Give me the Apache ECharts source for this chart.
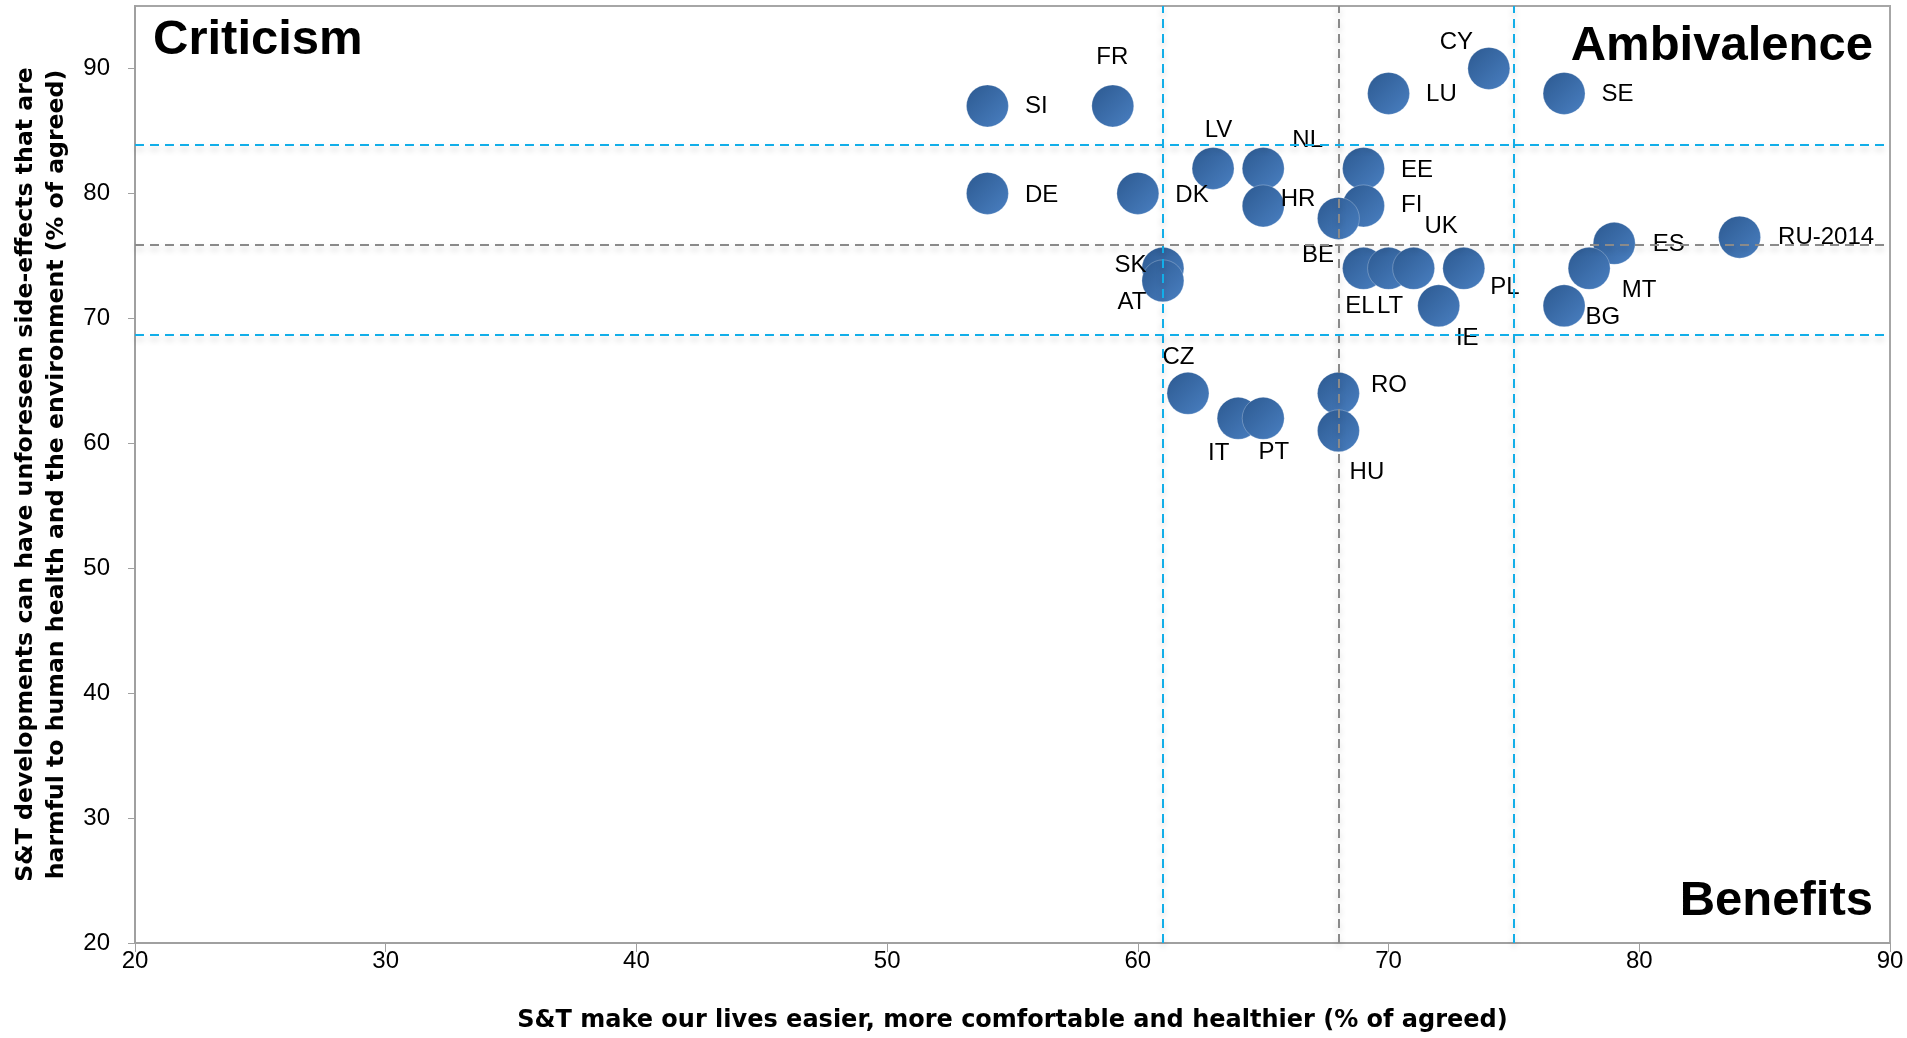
<!DOCTYPE html>
<html>
<head>
<meta charset="utf-8">
<title>S&amp;T perceptions by country</title>
<script src="https://cdn.jsdelivr.net/npm/echarts@6/dist/echarts.min.js"></script>
<style>
  html, body { margin: 0; padding: 0; background: #ffffff; }
  #chart { width: 1907px; height: 1038px; }
</style>
</head>
<body>
<div id="chart"></div>
<script>
// Country codes
const countries = ['SI', 'FR', 'LV', 'NL', 'EE', 'DE', 'DK', 'HR', 'FI', 'BE',
  'CY', 'LU', 'SE', 'ES', 'RU-2014', 'MT', 'BG', 'SK', 'AT', 'EL',
  'LT', 'UK', 'PL', 'IE', 'CZ', 'IT', 'PT', 'RO', 'HU'];

// "S&T make our lives easier, more comfortable and healthier" (% agreed)
const easierLives = [54, 59, 63, 65, 69, 54, 60, 65, 69, 68,
  74, 70, 77, 79, 84, 78, 77, 61, 61, 69,
  70, 71, 73, 72, 62, 64, 65, 68, 68];

// "S&T developments can have unforeseen harmful side-effects" (% agreed)
const sideEffects = [87, 87, 82, 82, 82, 80, 80, 79, 79, 78,
  90, 88, 88, 76, 76.5, 74, 71, 74, 73, 74,
  74, 74, 74, 71, 64, 62, 62, 64, 61];

// Reference lines (vertical on the x scale, horizontal on the y scale)
const xRefLines = [61, 68, 75];
const yRefLines = [83.9, 75.9, 68.7];
const refColors = ['#12aee8', '#8a8a8a', '#12aee8'];

// Axis ticks
const xTicks = [20, 30, 40, 50, 60, 70, 80, 90];
const yTicks = [20, 30, 40, 50, 60, 70, 80, 90];

// Label placement around each bubble: [text align, dx, dy] from the centre
const labelPlacement = {
  'SI': ['left', 38, 1], 'FR': ['center', 0, -48], 'LV': ['center', 6, -38],
  'NL': ['center', 45, -28], 'EE': ['left', 38, 2], 'DE': ['left', 38, 2],
  'DK': ['left', 38, 2], 'HR': ['left', 18, -6], 'FI': ['left', 38, 0],
  'BE': ['right', -4, 37], 'CY': ['center', -32, -26], 'LU': ['left', 38, 1],
  'SE': ['left', 38, 1], 'ES': ['left', 39, 2], 'RU-2014': ['left', 39, 1],
  'MT': ['left', 33, 23], 'BG': ['left', 22, 12], 'SK': ['right', -16, -2],
  'AT': ['right', -16, 22], 'EL': ['center', -3, 39], 'LT': ['center', 2, 39],
  'UK': ['center', 28, -41], 'PL': ['left', 27, 20], 'IE': ['center', 29, 33],
  'CZ': ['center', -9, -35], 'IT': ['center', -19, 36], 'PT': ['center', 11, 35],
  'RO': ['left', 33, -7], 'HU': ['center', 29, 42]
};

const BUBBLE = 42;
const half = BUBBLE / 2;
const labelFont = 'Liberation Sans';
const tickFont = 'Liberation Sans';
const titleFont = 'DejaVu Sans';

const points = countries.map(function (c, i) {
  const p = labelPlacement[c];
  return {
    name: c,
    value: [easierLives[i], sideEffects[i]],
    label: {
      position: [half + p[1], half + p[2]],
      align: p[0],
      verticalAlign: 'middle'
    }
  };
});

const dashStyle = function (color) {
  return {
    color: color,
    width: 2,
    type: [9, 6],
    shadowColor: 'rgba(0,0,0,0.22)',
    shadowBlur: 6,
    shadowOffsetY: 4
  };
};

const refLineData = xRefLines.map(function (v, i) {
  return { xAxis: v, lineStyle: dashStyle(refColors[i]) };
}).concat(yRefLines.map(function (v, i) {
  return { yAxis: v, lineStyle: dashStyle(refColors[i]) };
}));

const chart = echarts.init(document.getElementById('chart'), null, { renderer: 'canvas' });

chart.setOption({
  animation: false,
  backgroundColor: '#ffffff',
  grid: {
    left: 135, right: 17, top: 6, bottom: 94,
    show: true, borderColor: '#a6a6a6', borderWidth: 2
  },
  xAxis: {
    type: 'value', min: xTicks[0], max: xTicks[xTicks.length - 1], interval: 10,
    name: 'S&T make our lives easier, more comfortable and healthier (% of agreed)',
    nameLocation: 'middle', nameGap: 66,
    nameTextStyle: { fontFamily: titleFont, fontWeight: 'bold', fontSize: 24, color: '#000' },
    splitLine: { show: false },
    axisLine: { show: true, lineStyle: { color: '#a0a0a0', width: 2 } },
    axisTick: { show: true, length: 9, lineStyle: { color: '#a0a0a0', width: 1 } },
    axisLabel: { fontFamily: tickFont, fontSize: 24, color: '#000', margin: 6 }
  },
  yAxis: {
    type: 'value', min: yTicks[0], max: 95, interval: 10,
    name: 'S&T developments can have unforeseen side-effects that are\nharmful to human health and the environment (% of agreed)',
    nameLocation: 'middle', nameGap: 47, nameRotate: 90,
    nameTextStyle: { fontFamily: titleFont, fontWeight: 'bold', fontSize: 23.6, lineHeight: 31, color: '#000', align: 'center' },
    splitLine: { show: false },
    axisLine: { show: true, lineStyle: { color: '#a0a0a0', width: 2 } },
    axisTick: { show: true, length: 7, lineStyle: { color: '#a0a0a0', width: 1 } },
    axisLabel: { fontFamily: tickFont, fontSize: 24, color: '#000', margin: 25, showMaxLabel: false }
  },
  graphic: [
    { type: 'text', left: 153, top: 16, z: 10,
      style: { text: 'Criticism', font: 'bold 49px "Liberation Sans"', fill: '#000' } },
    { type: 'text', right: 34, top: 22, z: 10,
      style: { text: 'Ambivalence', font: 'bold 49px "Liberation Sans"', fill: '#000' } },
    { type: 'text', right: 34, top: 877, z: 10,
      style: { text: 'Benefits', font: 'bold 49px "Liberation Sans"', fill: '#000' } }
  ],
  series: [
    {
      type: 'scatter',
      z: 2,
      symbol: 'circle',
      symbolSize: BUBBLE,
      data: points,
      itemStyle: {
        color: {
          type: 'linear', x: 0, y: 0, x2: 1, y2: 1,
          colorStops: [
            { offset: 0, color: '#2c5990' },
            { offset: 1, color: '#4a80c2' }
          ]
        },
        borderColor: 'rgba(255,255,255,0.25)',
        borderWidth: 1,
        opacity: 1
      },
      label: {
        show: true,
        formatter: '{b}',
        fontFamily: labelFont,
        fontSize: 24,
        color: '#000'
      },
      emphasis: { disabled: true }
    },
    {
      type: 'scatter',
      z: 5,
      data: [],
      silent: true,
      markLine: {
        silent: true,
        symbol: ['none', 'none'],
        label: { show: false },
        z: 5,
        data: refLineData
      }
    }
  ]
});
</script>
</body>
</html>
